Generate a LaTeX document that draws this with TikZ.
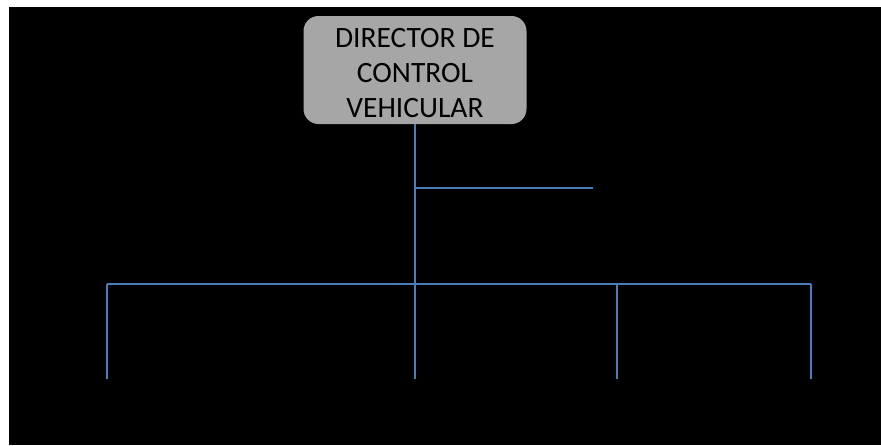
\documentclass[tikz,border=0pt]{standalone}
\usepackage{fontspec}
\setmainfont{Carlito}
\usetikzlibrary{positioning}
\definecolor{boxgray}{HTML}{A6A6A6}
\definecolor{lineblue}{HTML}{4A7EBB}

\begin{document}
\begin{tikzpicture}[
x=1pt,
y=-1pt,
headbox/.style={
fill=boxgray,
rounded corners=15pt,
minimum width=223pt,
minimum height=108pt,
inner sep=0pt,
align=center,
font=\fontsize{29.5}{35}\selectfont
},
link/.style={draw=lineblue,line width=2pt}
]

\useasboundingbox (0,0) rectangle (881,445);
\fill[white] (0,0) rectangle (881,445);
\fill[black] (9,7) rectangle (881,445);

\node (director)[headbox] at (415,70){\rule{0pt}{26pt}DIRECTOR DE\\CONTROL\\VEHICULAR};

\coordinate (split) at (415,188);
\coordinate (staff) at (593,188);
\coordinate (bar) at (415,284);
\coordinate (barleft) at (107,284);
\coordinate (barmid) at (617,284);
\coordinate (barright) at (811,284);
\coordinate (leaf1) at (107,379);
\coordinate (leaf2) at (415,379);
\coordinate (leaf3) at (617,379);
\coordinate (leaf4) at (811,379);

\draw[link](director.south)--(split)--(bar);
\draw[link](split)--(staff);
\draw[link](barleft)--(barright);
\draw[link](barleft)--(leaf1);
\draw[link](bar)--(leaf2);
\draw[link](barmid)--(leaf3);
\draw[link](barright)--(leaf4);

\end{tikzpicture}
\end{document}
